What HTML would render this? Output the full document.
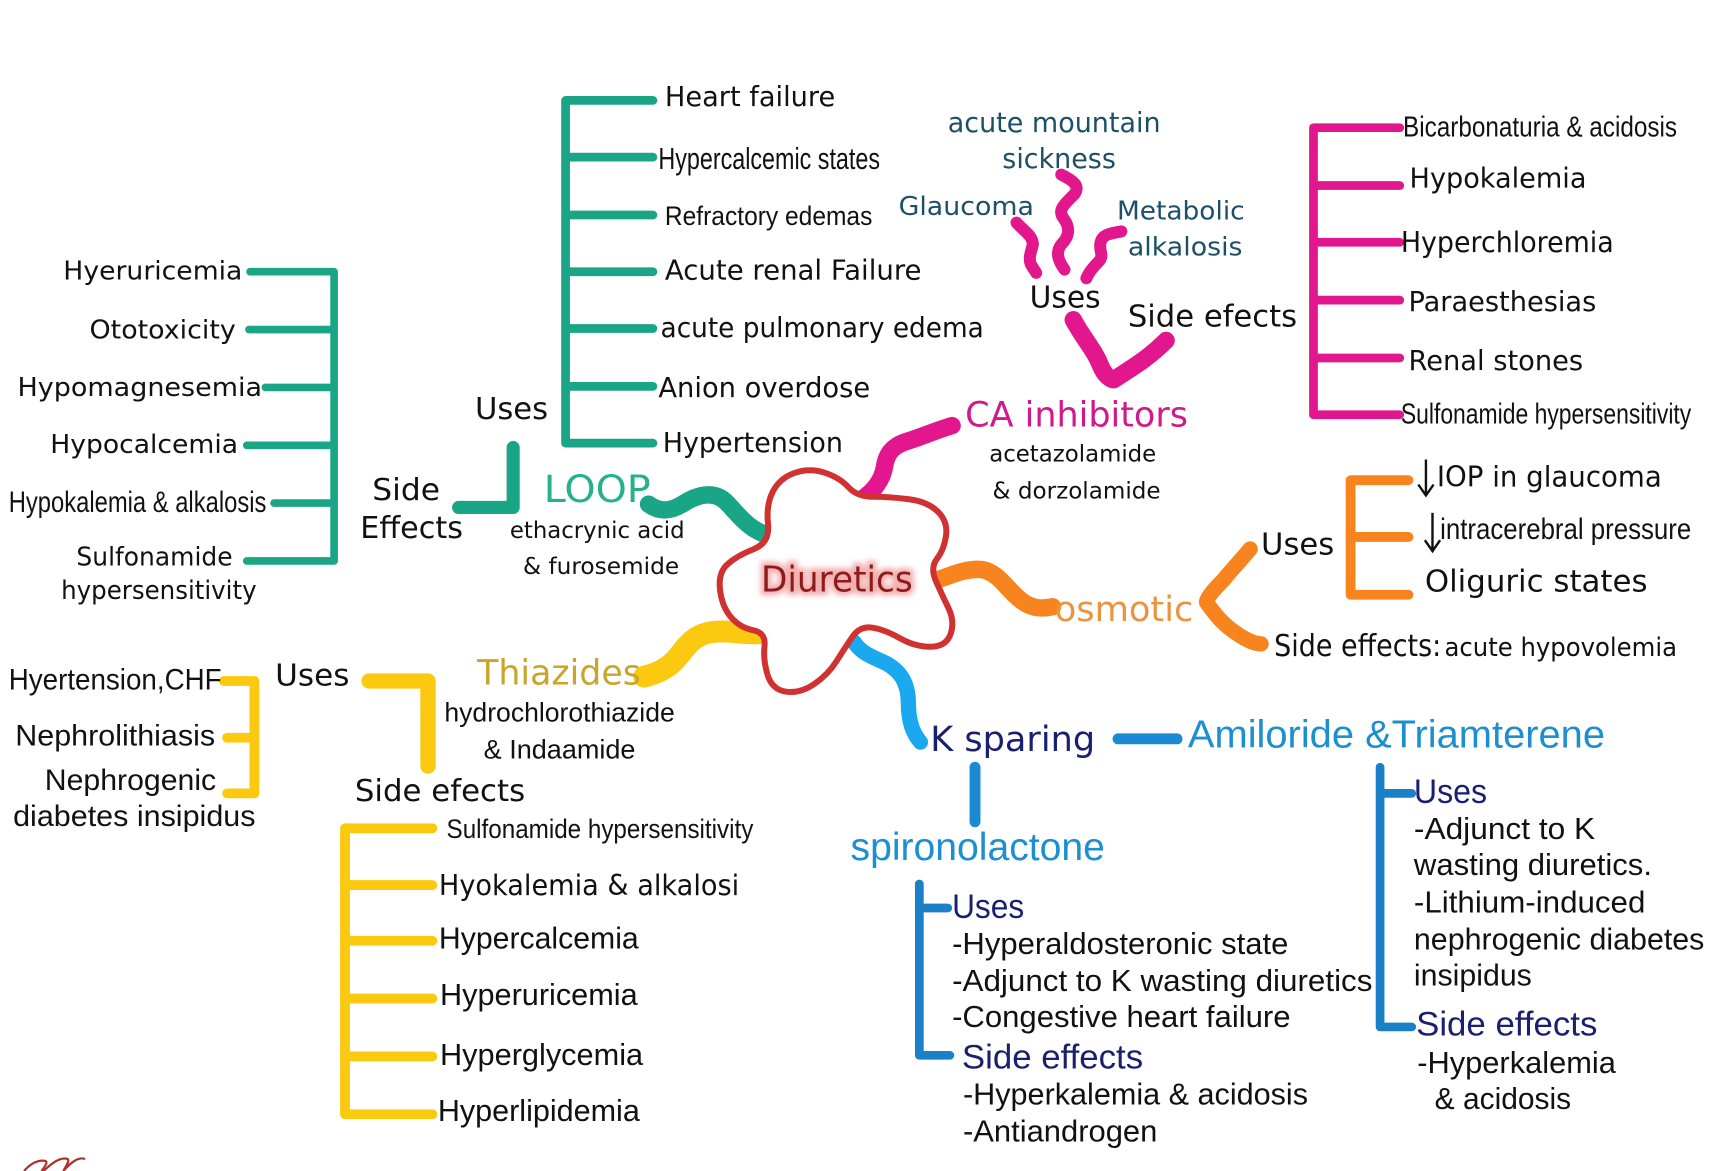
<!DOCTYPE html>
<html>
<head>
<meta charset="utf-8">
<style>
html,body{margin:0;padding:0;background:#fff;}
svg{display:block;}
.t{font-family:"DejaVu Sans","Liberation Sans",sans-serif;fill:#111;}
.n{font-family:"Liberation Sans Narrow","Liberation Sans",sans-serif;fill:#111;}
.ln{fill:none;stroke-linecap:round;stroke-linejoin:round;}
</style>
</head>
<body>
<svg width="1712" height="1171" viewBox="0 0 1568 1073" preserveAspectRatio="none" xmlns="http://www.w3.org/2000/svg">
<defs>
<filter id="glow" x="-20%" y="-40%" width="140%" height="180%">
<feGaussianBlur stdDeviation="2.5"/>
</filter>
</defs>
<rect width="1568" height="1073" fill="#fff"/>

<!-- ===== GREEN (LOOP) ===== -->
<g class="ln" stroke="#1aa586">
<path d="M229,249 H306 V514 H226" stroke-width="7"/>
<path d="M228,302 H306 M243,355 H306 M226,408 H306 M251,461 H306" stroke-width="7"/>
<path d="M470,410 V465 H420" stroke-width="12"/>
<path d="M598,92 H518 V406 H598" stroke-width="8"/>
<path d="M518,144 H598 M518,197 H598 M518,249 H598 M518,301 H598 M518,354 H598" stroke-width="8"/>
<path d="M594,462 C605,470 615,468 625,462 C640,452 655,450 665,460 C675,470 685,485 702,490" stroke-width="16"/>
</g>

<text class="t" x="58" y="256" font-size="24" textLength="164" lengthAdjust="spacingAndGlyphs">Hyeruricemia</text>
<text class="t" x="82" y="310" font-size="24" textLength="134" lengthAdjust="spacingAndGlyphs">Ototoxicity</text>
<text class="t" x="16" y="363" font-size="24" textLength="224" lengthAdjust="spacingAndGlyphs">Hypomagnesemia</text>
<text class="t" x="46" y="415" font-size="24" textLength="172" lengthAdjust="spacingAndGlyphs">Hypocalcemia</text>
<text class="n" x="8" y="469" font-size="27" textLength="236" lengthAdjust="spacingAndGlyphs">Hypokalemia &amp; alkalosis</text>
<text class="t" x="70" y="518" font-size="24" textLength="143" lengthAdjust="spacingAndGlyphs">Sulfonamide</text>
<text class="t" x="56" y="549" font-size="24" textLength="179" lengthAdjust="spacingAndGlyphs">hypersensitivity</text>

<text class="t" x="341" y="458" font-size="28" textLength="62" lengthAdjust="spacingAndGlyphs">Side</text>
<text class="t" x="330" y="493" font-size="28" textLength="94" lengthAdjust="spacingAndGlyphs">Effects</text>
<text class="t" x="435" y="384" font-size="28" textLength="67" lengthAdjust="spacingAndGlyphs">Uses</text>

<text class="t" x="609" y="97" font-size="25" textLength="156" lengthAdjust="spacingAndGlyphs">Heart failure</text>
<text class="n" x="603" y="155" font-size="28" textLength="203" lengthAdjust="spacingAndGlyphs">Hypercalcemic states</text>
<text class="n" x="609" y="206" font-size="25" textLength="190" lengthAdjust="spacingAndGlyphs">Refractory edemas</text>
<text class="t" x="609" y="256" font-size="25" textLength="235" lengthAdjust="spacingAndGlyphs">Acute renal Failure</text>
<text class="t" x="605" y="309" font-size="25" textLength="296" lengthAdjust="spacingAndGlyphs">acute pulmonary edema</text>
<text class="t" x="603" y="364" font-size="25" textLength="194" lengthAdjust="spacingAndGlyphs">Anion overdose</text>
<text class="t" x="607" y="414" font-size="25" textLength="165" lengthAdjust="spacingAndGlyphs">Hypertension</text>

<text class="t" x="498" y="460" font-size="34" textLength="98" lengthAdjust="spacingAndGlyphs" style="fill:#25b08e">LOOP</text>
<text class="t" x="467" y="493" font-size="21" textLength="160" lengthAdjust="spacingAndGlyphs">ethacrynic acid</text>
<text class="t" x="479" y="526" font-size="21" textLength="143" lengthAdjust="spacingAndGlyphs">&amp; furosemide</text>

<!-- ===== MAGENTA (CA inhibitors) ===== -->
<g class="ln" stroke="#e2178e">
<path d="M1282,117 H1203 V380 H1282" stroke-width="8"/>
<path d="M1203,170 H1282 M1203,222 H1282 M1203,275 H1282 M1203,328 H1282" stroke-width="8"/>
<path d="M972,160 C982,165 990,170 984,178 C976,186 968,192 974,200 C980,208 980,216 972,224 C966,232 970,240 975,247" stroke-width="11"/>
<path d="M931,204 C938,212 946,216 946,224 C944,232 942,236 944,242 C946,246 948,248 949,250" stroke-width="11"/>
<path d="M1027,212 C1018,214 1010,214 1008,222 C1006,230 1012,234 1006,240 C1000,246 997,250 995,255" stroke-width="11"/>
<path d="M983,293 C992,310 1002,320 1008,335 C1012,345 1018,348 1020,348 C1035,338 1050,330 1068,312" stroke-width="16"/>
<path d="M872,390 C858,394 845,400 832,404 C818,408 812,415 810,428 C808,440 800,450 790,457" stroke-width="16"/>
</g>

<text class="t" x="868" y="121" font-size="25" textLength="195" lengthAdjust="spacingAndGlyphs" style="fill:#1d5068">acute mountain</text>
<text class="t" x="918" y="154" font-size="25" textLength="104" lengthAdjust="spacingAndGlyphs" style="fill:#1d5068">sickness</text>
<text class="t" x="823" y="197" font-size="24" textLength="124" lengthAdjust="spacingAndGlyphs" style="fill:#1d5068">Glaucoma</text>
<text class="t" x="1023" y="201" font-size="24" textLength="117" lengthAdjust="spacingAndGlyphs" style="fill:#1d5068">Metabolic</text>
<text class="t" x="1033" y="234" font-size="24" textLength="105" lengthAdjust="spacingAndGlyphs" style="fill:#1d5068">alkalosis</text>
<text class="t" x="943" y="282" font-size="28" textLength="65" lengthAdjust="spacingAndGlyphs">Uses</text>
<text class="t" x="1033" y="299" font-size="28" textLength="155" lengthAdjust="spacingAndGlyphs">Side efects</text>

<text class="n" x="1285" y="125" font-size="26" textLength="251" lengthAdjust="spacingAndGlyphs">Bicarbonaturia &amp; acidosis</text>
<text class="t" x="1291" y="172" font-size="25" textLength="162" lengthAdjust="spacingAndGlyphs">Hypokalemia</text>
<text class="t" x="1283" y="231" font-size="26" textLength="195" lengthAdjust="spacingAndGlyphs">Hyperchloremia</text>
<text class="t" x="1290" y="285" font-size="25" textLength="172" lengthAdjust="spacingAndGlyphs">Paraesthesias</text>
<text class="t" x="1290" y="339" font-size="25" textLength="160" lengthAdjust="spacingAndGlyphs">Renal stones</text>
<text class="n" x="1283" y="388" font-size="26" textLength="266" lengthAdjust="spacingAndGlyphs">Sulfonamide hypersensitivity</text>

<text class="t" x="884" y="391" font-size="32" textLength="204" lengthAdjust="spacingAndGlyphs" style="fill:#d0198a">CA inhibitors</text>
<text class="t" x="906" y="423" font-size="21" textLength="153" lengthAdjust="spacingAndGlyphs">acetazolamide</text>
<text class="t" x="909" y="457" font-size="21" textLength="154" lengthAdjust="spacingAndGlyphs">&amp; dorzolamide</text>

<!-- ===== ORANGE (osmotic) ===== -->
<g class="ln" stroke="#f7841e">
<path d="M856,532 C870,528 885,520 900,522 C915,525 922,540 935,550 C945,558 955,558 964,556" stroke-width="16"/>
<path d="M1145,503 C1135,515 1128,522 1120,532 C1112,540 1105,548 1105,552 C1112,562 1120,572 1132,580 C1142,587 1150,590 1155,590" stroke-width="14"/>
<path d="M1290,440 H1237 V545 H1290 M1237,492 H1290" stroke-width="9"/>
</g>
<text class="t" x="966" y="569" font-size="32" textLength="127" lengthAdjust="spacingAndGlyphs" style="fill:#eb9440">osmotic</text>
<text class="t" x="1155" y="508" font-size="28" textLength="67" lengthAdjust="spacingAndGlyphs">Uses</text>
<g stroke="#111" stroke-width="2.2" fill="none">
<path d="M1306,421 V453 M1299,444 L1306,454 L1313,444"/>
<path d="M1312,470 V504 M1305,495 L1312,505 L1319,495"/>
</g>
<text class="t" x="1316" y="446" font-size="26" textLength="206" lengthAdjust="spacingAndGlyphs">IOP in glaucoma</text>
<text class="n" x="1319" y="494" font-size="27" textLength="230" lengthAdjust="spacingAndGlyphs">intracerebral pressure</text>
<text class="t" x="1305" y="542" font-size="28" textLength="204" lengthAdjust="spacingAndGlyphs">Oliguric states</text>
<text class="t" x="1167" y="601" font-size="28" textLength="153" lengthAdjust="spacingAndGlyphs">Side effects:</text>
<text class="t" x="1323" y="601" font-size="24" textLength="213" lengthAdjust="spacingAndGlyphs">acute hypovolemia</text>

<!-- ===== YELLOW (Thiazides) ===== -->
<g class="ln" stroke="#fbc90f">
<path d="M698,580 C680,582 665,576 648,580 C630,584 625,600 615,608 C607,615 598,618 590,620" stroke-width="20"/>
<path d="M205,624 H233 V727 H208 M208,676 H233" stroke-width="9"/>
<path d="M338,624 H392 V702" stroke-width="14"/>
<path d="M396,759 H316 V1021 H396" stroke-width="9"/>
<path d="M316,811 H396 M316,862 H396 M316,915 H396 M316,968 H396" stroke-width="9"/>
</g>
<text class="t" x="437" y="627" font-size="32" textLength="150" lengthAdjust="spacingAndGlyphs" style="fill:#c9a62a">Thiazides</text>
<text class="n" x="407" y="661" font-size="25" textLength="211" lengthAdjust="spacingAndGlyphs">hydrochlorothiazide</text>
<text class="n" x="443" y="695" font-size="25" textLength="139" lengthAdjust="spacingAndGlyphs">&amp; Indaamide</text>
<text class="t" x="252" y="628" font-size="28" textLength="68" lengthAdjust="spacingAndGlyphs">Uses</text>
<text class="n" x="8" y="632" font-size="27" textLength="195" lengthAdjust="spacingAndGlyphs">Hyertension,CHF</text>
<text class="n" x="14" y="683" font-size="27" textLength="183" lengthAdjust="spacingAndGlyphs">Nephrolithiasis</text>
<text class="n" x="41" y="724" font-size="27" textLength="157" lengthAdjust="spacingAndGlyphs">Nephrogenic</text>
<text class="n" x="12" y="757" font-size="27" textLength="222" lengthAdjust="spacingAndGlyphs">diabetes insipidus</text>
<text class="t" x="325" y="734" font-size="28" textLength="156" lengthAdjust="spacingAndGlyphs">Side efects</text>
<text class="n" x="409" y="768" font-size="25" textLength="281" lengthAdjust="spacingAndGlyphs">Sulfonamide hypersensitivity</text>
<text class="t" x="402" y="820" font-size="26" textLength="275" lengthAdjust="spacingAndGlyphs">Hyokalemia &amp; alkalosi</text>
<text class="n" x="402" y="869" font-size="28" textLength="183" lengthAdjust="spacingAndGlyphs">Hypercalcemia</text>
<text class="n" x="403" y="921" font-size="28" textLength="181" lengthAdjust="spacingAndGlyphs">Hyperuricemia</text>
<text class="n" x="403" y="976" font-size="28" textLength="186" lengthAdjust="spacingAndGlyphs">Hyperglycemia</text>
<text class="n" x="401" y="1027" font-size="28" textLength="185" lengthAdjust="spacingAndGlyphs">Hyperlipidemia</text>

<!-- ===== BLUE (K sparing) ===== -->
<g class="ln">
<path d="M782,588 C790,600 800,602 812,608 C828,617 832,630 832,645 C832,660 836,672 843,680" stroke="#1aa8ef" stroke-width="14"/>
<path d="M1024,677 H1078" stroke="#1a8ad4" stroke-width="10"/>
<path d="M893,703 V753" stroke="#1a8ad4" stroke-width="10"/>
<path d="M842,810 V967 H870 M842,832 H868" stroke="#1a80c8" stroke-width="8"/>
<path d="M1264,703 V941 H1293 M1264,727 H1293" stroke="#1a80c8" stroke-width="8"/>
</g>
<text class="t" x="852" y="688" font-size="32" textLength="151" lengthAdjust="spacingAndGlyphs" style="fill:#1a2070">K sparing</text>
<text class="n" x="1088" y="685" font-size="36" textLength="382" lengthAdjust="spacingAndGlyphs" style="fill:#1b8fcf">Amiloride &amp;Triamterene</text>
<text class="n" x="779" y="788" font-size="36" textLength="233" lengthAdjust="spacingAndGlyphs" style="fill:#1b8fcf">spironolactone</text>

<text class="n" x="872" y="841" font-size="31" textLength="66" lengthAdjust="spacingAndGlyphs" style="fill:#1a2070">Uses</text>
<text class="n" x="872" y="874" font-size="28" textLength="308" lengthAdjust="spacingAndGlyphs">-Hyperaldosteronic state</text>
<text class="n" x="872" y="908" font-size="28" textLength="385" lengthAdjust="spacingAndGlyphs">-Adjunct to K wasting diuretics</text>
<text class="n" x="872" y="941" font-size="28" textLength="310" lengthAdjust="spacingAndGlyphs">-Congestive heart failure</text>
<text class="n" x="881" y="979" font-size="31" textLength="166" lengthAdjust="spacingAndGlyphs" style="fill:#1a2070">Side effects</text>
<text class="n" x="882" y="1012" font-size="28" textLength="316" lengthAdjust="spacingAndGlyphs">-Hyperkalemia &amp; acidosis</text>
<text class="n" x="882" y="1046" font-size="28" textLength="178" lengthAdjust="spacingAndGlyphs">-Antiandrogen</text>

<text class="n" x="1295" y="736" font-size="31" textLength="67" lengthAdjust="spacingAndGlyphs" style="fill:#1a2070">Uses</text>
<text class="n" x="1295" y="769" font-size="28" textLength="166" lengthAdjust="spacingAndGlyphs">-Adjunct to K</text>
<text class="n" x="1295" y="802" font-size="28" textLength="218" lengthAdjust="spacingAndGlyphs">wasting diuretics.</text>
<text class="n" x="1295" y="836" font-size="28" textLength="212" lengthAdjust="spacingAndGlyphs">-Lithium-induced</text>
<text class="n" x="1295" y="870" font-size="28" textLength="266" lengthAdjust="spacingAndGlyphs">nephrogenic diabetes</text>
<text class="n" x="1295" y="903" font-size="28" textLength="108" lengthAdjust="spacingAndGlyphs">insipidus</text>
<text class="n" x="1297" y="949" font-size="31" textLength="166" lengthAdjust="spacingAndGlyphs" style="fill:#1a2070">Side effects</text>
<text class="n" x="1298" y="983" font-size="28" textLength="182" lengthAdjust="spacingAndGlyphs">-Hyperkalemia</text>
<text class="n" x="1314" y="1016" font-size="28" textLength="125" lengthAdjust="spacingAndGlyphs">&amp; acidosis</text>

<!-- ===== CENTER BLOB ===== -->
<g transform="scale(0.91589)">
<path d="M768,524 Q766,505 773,491.5 Q780,478 795,473 Q810,468 825,473 Q840,478 848.5,487.5 Q857,497 873.5,497 Q890,497 909,499.5 Q928,502 938,512 Q948,522 946,536 Q944,550 937,559 Q930,568 936,581.5 Q942,595 948.5,608.5 Q955,622 950.5,634.5 Q946,647 930.5,647 Q915,647 900,638.5 Q885,630 872.5,628 Q860,626 852.5,637 Q845,648 836.5,661.5 Q828,675 814,684.5 Q800,694 786,692 Q772,690 767.5,675 Q763,660 764.5,646.5 Q766,633 753,630.5 Q740,628 731,617.5 Q722,607 720,590 Q718,573 727.5,564.5 Q737,556 753.5,549.5 Q770,543 768,524 Z" fill="#fff" stroke="#d13131" stroke-width="6" stroke-linejoin="round"/>
</g>
<text class="t" x="697" y="542" font-size="33" textLength="139" lengthAdjust="spacingAndGlyphs" style="fill:#f2b0b0;stroke:#f2b0b0;stroke-width:7" filter="url(#glow)">Diuretics</text>
<text class="t" x="697" y="542" font-size="33" textLength="139" lengthAdjust="spacingAndGlyphs" style="fill:#8e1b1b">Diuretics</text>

<!-- signature -->
<path d="M22,1073 C28,1066 36,1062 42,1064 C44,1066 40,1070 38,1073 M40,1073 C48,1065 56,1060 62,1062 C64,1064 60,1069 58,1073 M58,1073 C66,1064 72,1060 78,1062" fill="none" stroke="#b03030" stroke-width="2"/>
</svg>
</body>
</html>
